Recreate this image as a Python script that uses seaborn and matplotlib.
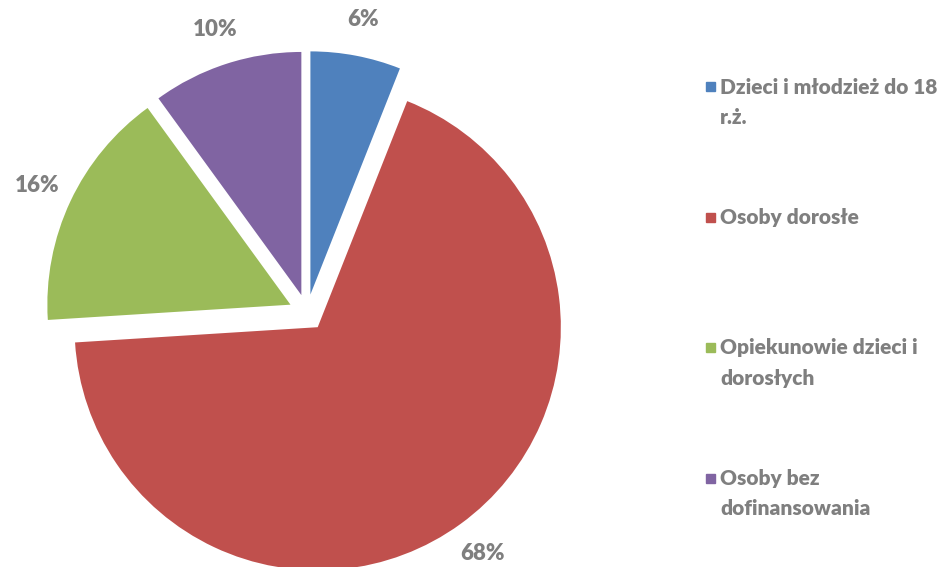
import matplotlib
matplotlib.use("Agg")
import matplotlib.pyplot as plt
import matplotlib.patches as mpatches
from matplotlib.legend_handler import HandlerPatch
import seaborn as sns

sns.set_theme(style="white")
plt.rcParams["font.family"] = ["Lato", "DejaVu Sans"]

categories = ["Dzieci i młodzież do 18\nr.ż.", "Osoby dorosłe\n ",
              "Opiekunowie dzieci i\ndorosłych", "Osoby bez\ndofinansowania"]
shares = [6, 68, 16, 10]
colors = ["#4F81BD", "#C0504D", "#9BBB59", "#8064A2"]
text_gray = "#7F7F7F"

fig = plt.figure(figsize=(9.44, 5.67), dpi=100)
# square axes, pie centre ~ (307, 312) px, radius ~243 px
ax = fig.add_axes([-0.0122, -0.1085, 0.6748, 1.1235])

wedges, texts, autotexts = ax.pie(
    shares, colors=colors, startangle=90, counterclock=False,
    explode=[0.075] * len(shares), autopct="%d%%", pctdistance=1.15,
    wedgeprops=dict(linewidth=0),
    textprops=dict(color=text_gray, fontsize=16, fontweight="heavy"),
)
ax.set_xlim(-1.31, 1.31)
ax.set_ylim(-1.30, 1.32)
ax.set_aspect("equal")
ax.axis("off")


# square marker lined up with the first line of each two-line label
def top_square(legend, orig_handle, xdescent, ydescent, width, height, fontsize):
    s = 0.42 * fontsize
    return mpatches.Rectangle((width - s, height / 2 - s / 2 + 11.5), s, s)


handles = [mpatches.Patch(color=c) for c in colors]
leg = fig.legend(
    handles, categories, loc="upper left", bbox_to_anchor=(0.735, 0.878),
    frameon=False, fontsize=15, handlelength=0.6, handletextpad=0.26,
    labelspacing=3.9, borderaxespad=0,
    handler_map={mpatches.Patch: HandlerPatch(patch_func=top_square)},
)
for t in leg.get_texts():
    t.set_color(text_gray)
    t.set_fontweight("heavy")
    t.set_linespacing(1.7)

fig.savefig("out.png", dpi=100)
